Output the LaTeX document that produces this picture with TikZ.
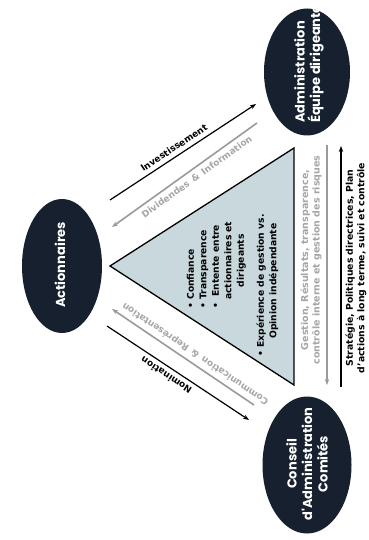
\documentclass[tikz,border=0pt]{standalone}
\usepackage{fontspec}
\setmainfont{DejaVu Sans}
\newfontfamily\ellfont{Poppins}
\usetikzlibrary{arrows.meta,shapes.geometric}
\definecolor{navy}{HTML}{17202E}
\definecolor{trifill}{HTML}{C9D8DC}
\definecolor{arrgray}{HTML}{9A9A9A}
\definecolor{txtgray}{HTML}{A6A6A6}
\tikzset{
  ell/.style={ellipse, fill=navy, draw=none, inner sep=0pt},
  elltext/.style={text=white, font=\ellfont\bfseries\fontsize{13}{15.5}\selectfont, rotate=90, inner sep=0pt},
  tri/.style={draw=black, line width=1.3pt, fill=trifill, line join=miter},
  tritext/.style={font=\bfseries\fontsize{9.2}{12.5}\selectfont, rotate=90, inner sep=0pt},
  blackline/.style={draw=black, line width=1.2pt},
  grayline/.style={draw=arrgray, line width=1.6pt},
  tip/.style={-{Stealth[length=6pt,width=4.5pt]}},
  revtip/.style={{Stealth[length=6pt,width=4.5pt]}-},
  lbl/.style={font=\bfseries\fontsize{9}{11}\selectfont, text=black, inner sep=0pt, outer sep=5pt},
  glbl/.style={font=\bfseries\fontsize{9}{11}\selectfont, text=txtgray, inner sep=0pt, outer sep=5pt},
  sidetext/.style={rotate=90, align=center, inner sep=0pt},
}
\begin{document}
\begin{tikzpicture}[x=1pt,y=-1pt]
\useasboundingbox (0,0) rectangle (368,540);
\fill[white] (0,0) rectangle (368,540);

% ellipses
\node[ell, rotate=90, minimum width=134pt, minimum height=80pt] (act) at (62,266) {};
\node[ell, rotate=90, minimum width=127pt, minimum height=86pt] (adm) at (307,72) {};
\node[ell, rotate=90, minimum width=137pt, minimum height=89pt] (cons) at (307,465) {};
\node[elltext] (acttxt) at (60,265) {Actionnaires};
\node[elltext, align=left] (admtxt) at (309,64) {Administration\\Équipe dirigeante};
\node[elltext, align=center] (constxt) at (307,464) {Conseil\\d'Administration\\Comités};

% triangle
\coordinate (tA) at (110,266);
\coordinate (tB) at (294,148);
\coordinate (tC) at (294,385);
\draw[tri] (tA) -- (tB) -- (tC) -- cycle;

\node[tritext, anchor=north west] (items) at (185,309) {\begin{tabular}{@{}l@{}}
\textbullet\ Confiance\\
\textbullet\ Transparence\\
\textbullet\ \begin{tabular}[t]{@{}c@{}}Entente entre\\actionnaires et\\dirigeants\end{tabular}
\end{tabular}};
\node[tritext, anchor=north west] (exp) at (255,357) {\textbullet\ \begin{tabular}[t]{@{}c@{}}Expérience de gestion vs.\\Opinion indépendante\end{tabular}};

% diagonal arrows
\coordinate (i1) at (110,200);
\coordinate (i2) at (256,104);
\draw[blackline, tip] (i1) -- node[lbl, sloped, above, pos=0.47] (invl) {Investissement} (i2);

\coordinate (d1) at (257,123);
\coordinate (d2) at (112,227);
\draw[grayline, revtip] (d2) -- node[glbl, sloped, below, pos=0.55] (divl) {Dividendes \,\&\, Information} (d1);

\coordinate (c1) at (254,405);
\coordinate (c2) at (112,309);
\draw[grayline, tip] (c1) -- node[glbl, sloped, allow upside down, below, pos=0.45] (coml) {Communication \,\&\, Représentation} (c2);

\coordinate (n1) at (107,326);
\coordinate (n2) at (249,420);
\draw[blackline, revtip] (n2) -- node[lbl, sloped, allow upside down, above, pos=0.55] (noml) {Nomination} (n1);

% vertical arrows
\coordinate (g1) at (327,145);
\coordinate (g2) at (327,385);
\draw[grayline, tip] (g1) -- (g2);
\coordinate (b1) at (341,387);
\coordinate (b2) at (341,146);
\draw[blackline, tip] (b1) -- (b2);

\node[sidetext, text=txtgray, font=\bfseries\fontsize{9.5}{11.5}\selectfont] (gtext) at (311,260) {Gestion, Résultats, transparence,\\contrôle interne et gestion des risques};
\node[sidetext, text=black, font=\bfseries\fontsize{9.3}{11.5}\selectfont] (btext) at (356,268) {Stratégie, Politiques directrices, Plan\\d'actions à long terme, suivi et contrôle};
\end{tikzpicture}
\end{document}
